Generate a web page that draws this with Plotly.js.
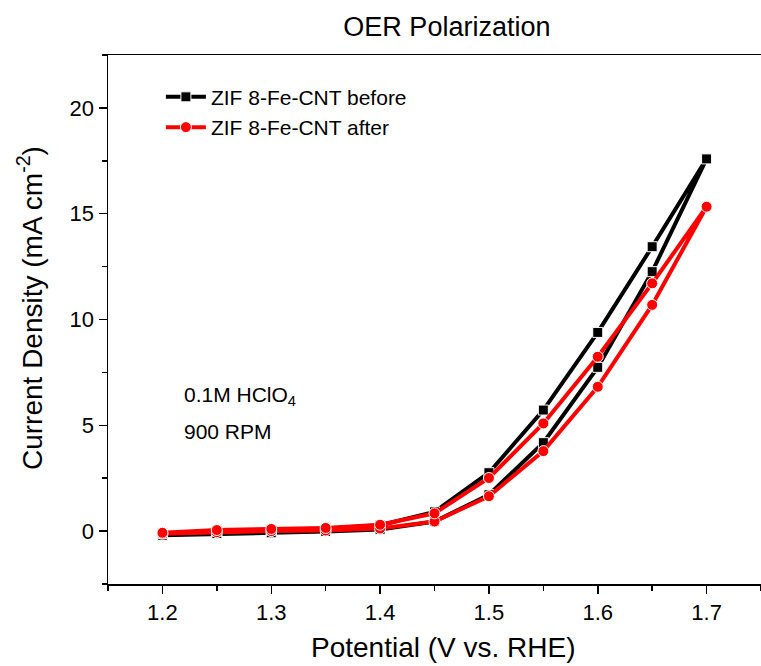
<!DOCTYPE html>
<html>
<head>
<meta charset="utf-8">
<script src="https://cdn.plot.ly/plotly-3.0.1.min.js"></script>
<style>html,body{margin:0;padding:0;background:#fff;}#chart{width:761px;height:666px;}</style>
</head>
<body>
<div id="chart"></div>
<script>
// Potential (V vs. RHE): forward scan then reverse scan
const potential = [1.2, 1.25, 1.3, 1.35, 1.4, 1.45, 1.5, 1.55, 1.6, 1.65, 1.7,
                   1.65, 1.6, 1.55, 1.5, 1.45, 1.4, 1.35, 1.3, 1.25, 1.2];
const beforeJ = [-0.20, -0.12, -0.08, -0.02, 0.08, 0.45, 1.72, 4.18, 7.74, 12.26, 17.59,
                 13.44, 9.39, 5.72, 2.76, 0.91, 0.28, 0.12, 0.05, 0.00, -0.12];
const afterJ  = [-0.12, -0.05, 0.00, 0.03, 0.12, 0.45, 1.65, 3.78, 6.82, 10.69, 15.33,
                 11.71, 8.24, 5.09, 2.51, 0.84, 0.30, 0.15, 0.10, 0.05, -0.08];
const seriesNames = ['ZIF 8-Fe-CNT before', 'ZIF 8-Fe-CNT after'];
const xTicks = [1.2, 1.3, 1.4, 1.5, 1.6, 1.7];
const yTicks = [0, 5, 10, 15, 20];

const font = 'Liberation Sans, Arial, sans-serif';
const traces = [
  {x: potential, y: beforeJ, name: seriesNames[0], type: 'scatter', mode: 'lines+markers',
   line: {color: '#000000', width: 4},
   marker: {symbol: 'square', size: 10, color: '#000000', line: {color: '#ffffff', width: 1}}},
  {x: potential, y: afterJ, name: seriesNames[1], type: 'scatter', mode: 'lines+markers',
   line: {color: '#ff0000', width: 4},
   marker: {symbol: 'circle', size: 11, color: '#ff0000', line: {color: '#ffffff', width: 1}}}
];

const layout = {
  width: 761, height: 666,
  margin: {l: 108, r: 0, t: 55, b: 82},
  paper_bgcolor: '#fff', plot_bgcolor: '#fff',
  font: {family: font, color: '#000'},
  title: {text: 'OER Polarization', font: {family: font, size: 27, color: '#000'},
          x: 0.519, xref: 'paper', xanchor: 'center', y: 1 - 27 / 666, yref: 'container', yanchor: 'middle'},
  showlegend: true,
  legend: {x: 0.081, y: 0.959, xanchor: 'left', yanchor: 'top', bgcolor: 'rgba(0,0,0,0)',
           font: {family: font, size: 21, color: '#000'}, tracegroupgap: 0, itemwidth: 40},
  xaxis: {
    range: [1.15, 1.75], tickvals: xTicks, ticktext: xTicks.map(v => v.toFixed(1)),
    ticks: 'outside', ticklen: 8, tickwidth: 1.5, tickcolor: '#000',
    showline: true, linecolor: '#000', linewidth: 1.5, mirror: true,
    showgrid: false, zeroline: false,
    tickfont: {family: font, size: 22, color: '#000'},
    minor: {dtick: 0.05, tick0: 1.15, ticks: 'outside', ticklen: 5, tickwidth: 1.5, tickcolor: '#000', showgrid: false}
  },
  yaxis: {
    range: [-2.5, 22.5], tickvals: yTicks, ticktext: yTicks.map(String),
    ticks: 'outside', ticklen: 8, tickwidth: 1.5, tickcolor: '#000',
    showline: true, linecolor: '#000', linewidth: 1.5, mirror: false,
    showgrid: false, zeroline: false,
    tickfont: {family: font, size: 22, color: '#000'},
    minor: {dtick: 2.5, tick0: 0, ticks: 'outside', ticklen: 5, tickwidth: 1.5, tickcolor: '#000', showgrid: false}
  },
  annotations: [
    {text: 'Potential (V vs. RHE)', xref: 'paper', yref: 'paper', x: (443 - 108) / 653, y: (584 - 647) / 529,
     xanchor: 'center', yanchor: 'middle', borderpad: 0, showarrow: false, font: {family: font, size: 28, color: '#000'}},
    {text: 'Current Density (mA cm<sup>-2</sup>)', xref: 'paper', yref: 'paper', x: (30 - 108) / 653, y: (584 - 308) / 529,
     xanchor: 'center', yanchor: 'middle', textangle: -90, showarrow: false, font: {family: font, size: 28, color: '#000'}},
    {text: '0.1M HClO<sub>4</sub>', xref: 'paper', yref: 'paper', x: (182 - 108) / 653, y: (584 - 396) / 529,
     xanchor: 'left', yanchor: 'middle', showarrow: false, font: {family: font, size: 21, color: '#000'}},
    {text: '900 RPM', xref: 'paper', yref: 'paper', x: (182 - 108) / 653, y: (584 - 432) / 529,
     xanchor: 'left', yanchor: 'middle', showarrow: false, font: {family: font, size: 21, color: '#000'}}
  ]
};

Plotly.newPlot('chart', traces, layout, {displayModeBar: false, staticPlot: true});
</script>
</body>
</html>
